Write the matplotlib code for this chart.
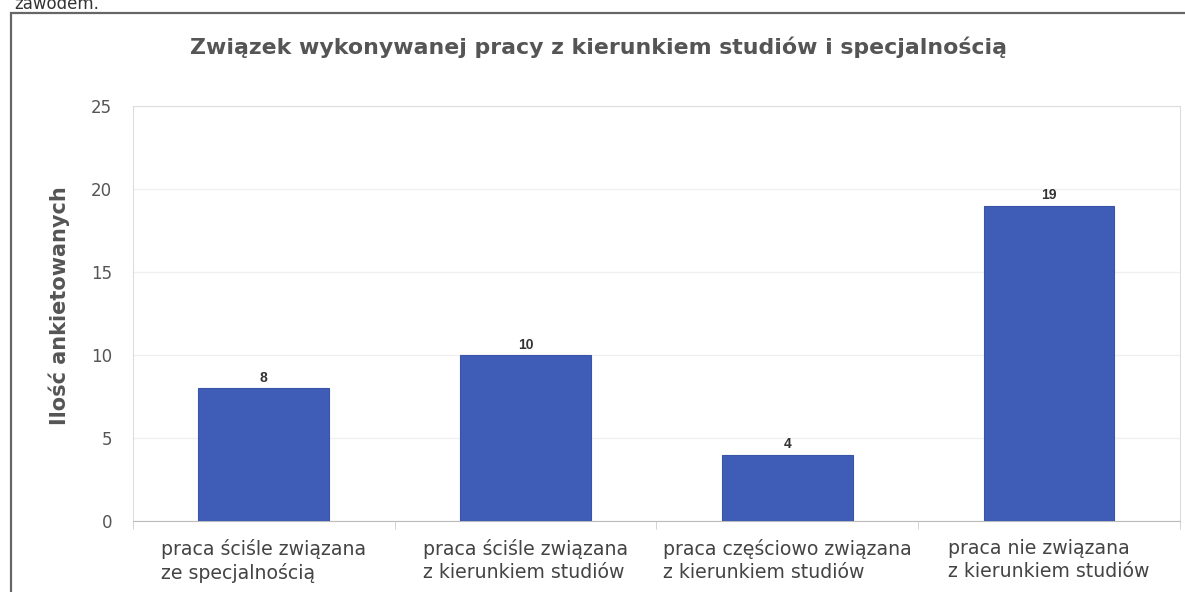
import matplotlib
matplotlib.use('Agg')
import matplotlib.pyplot as plt
from matplotlib.patches import Rectangle
import numpy as np

# data
categories = ['praca ściśle związana\nze specjalnością',
              'praca ściśle związana\nz kierunkiem studiów',
              'praca częściowo związana\nz kierunkiem studiów',
              'praca nie związana\nz kierunkiem studiów']
values = [8, 10, 4, 19]
yticks = [0, 5, 10, 15, 20, 25]

title = 'Związek wykonywanej pracy z kierunkiem studiów i specjalnością'
yLabel = 'Ilość ankietowanych'

plt.rcParams['font.family'] = 'DejaVu Sans'

fig = plt.figure(figsize=(11.85, 5.92), dpi=100)
ax = fig.add_axes([0.1122, 0.120, 0.8835, 0.701])

x = np.arange(len(values))
bars = ax.bar(x, values, width=0.5, color='#3f5cb6', edgecolor='#3a55a8', linewidth=0.8, zorder=3)

for xi, v in zip(x, values):
    ax.text(xi, v + 0.2, str(v), ha='center', va='bottom', fontsize=10,
            fontweight='bold', color='#333333', family='Liberation Sans')

ax.set_xlim(-0.5, len(values) - 0.5)
ax.set_ylim(0, 25)
ax.set_yticks(yticks)
ax.set_yticklabels([str(t) for t in yticks], fontsize=12, color='#555555')
ax.tick_params(axis='y', length=0, pad=15)

# category labels centered under each category, minor ticks at boundaries
ax.set_xticks(x)
ax.set_xticklabels(categories, fontsize=13.6, color='#444444', multialignment='left',
                   linespacing=1.25)
ax.tick_params(axis='x', which='major', length=0, pad=13)
ax.set_xticks(np.arange(len(values) + 1) - 0.5, minor=True)
ax.tick_params(axis='x', which='minor', length=6, color='#cccccc')

ax.grid(axis='y', color='#f0f0f0', linewidth=1, zorder=0)
for side in ['top', 'right', 'left']:
    ax.spines[side].set_color('#dddddd')
ax.spines['bottom'].set_color('#bbbbbb')

ax.set_ylabel(yLabel, fontsize=15, fontweight='bold', color='#555555')
ax.yaxis.set_label_coords(-0.060, 0.52)
fig.text(0.505, 0.92, title, ha='center', va='center', fontsize=15.8,
         fontweight='bold', color='#555555')

# scanned page frame and cut-off text above
fig.patches.append(Rectangle((0.0093, -0.05), 1.1, 1.028, transform=fig.transFigure,
                             fill=False, edgecolor='#666666', linewidth=1.6))
fig.text(0.012, 0.994, 'zawodem.', ha='left', va='center', fontsize=12, color='#333333')

plt.savefig('out.png', dpi=100)
